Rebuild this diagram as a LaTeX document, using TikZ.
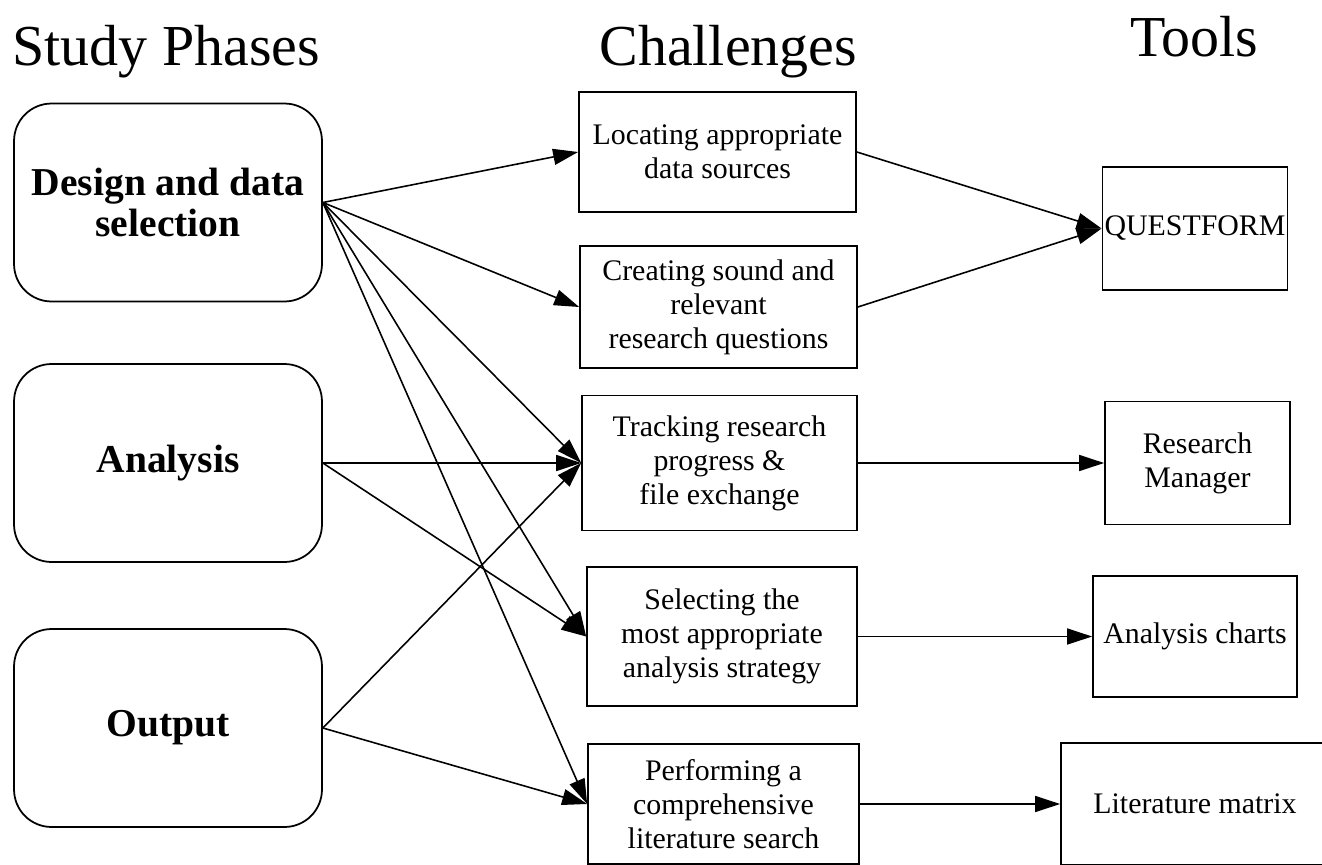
\documentclass[tikz,border=0pt]{standalone}
\usepackage{fontspec}
\setmainfont{Liberation Serif}
\usetikzlibrary{arrows.meta}

\tikzset{
  phase/.style={draw, line width=1pt, rounded corners=0.75cm, align=center,
    minimum width=6.16cm, minimum height=3.96cm,
    font=\fontsize{22.5}{23}\selectfont\bfseries},
  challenge/.style={draw, line width=1pt, align=center, inner sep=0pt,
    font=\fontsize{17}{19.3}\selectfont},
  tool/.style={draw, line width=1pt, align=center, inner sep=0pt,
    font=\fontsize{17}{19.3}\selectfont},
  heading/.style={anchor=base west, inner sep=0pt, font=\fontsize{33}{36}\selectfont},
  arr/.style={line width=0.9pt, -{Triangle[length=0.5cm,width=0.32cm]}}
}

\begin{document}
\begin{tikzpicture}[x=0.02cm, y=-0.02cm]
\useasboundingbox (0,0) rectangle (1322,865);

%--- HEADINGS ---
\node[heading] (hphase) at (12,66) {Study Phases};
\node[heading] (hchal) at (599,66) {Challenges};
\node[heading] (htool) at (1130,57) {Tools};

%--- STUDY PHASES ---
\node[phase] (design) at (168,202.5) {Design and data\\selection};
\node[phase] (analysis) at (168,463) {Analysis};
\node[phase] (output) at (168,728) {Output};

%--- CHALLENGES ---
\node[challenge, minimum width=5.54cm, minimum height=2.4cm] (locating)
      at (717.5,152) {Locating appropriate\\data sources};
\node[challenge, minimum width=5.54cm, minimum height=2.44cm] (creating)
      at (718.5,307) {Creating sound and\\relevant\\research questions};
\node[challenge, minimum width=5.5cm, minimum height=2.7cm] (tracking)
      at (719.5,463) {Tracking research\\progress \&\\file exchange};
\node[challenge, minimum width=5.4cm, minimum height=2.78cm] (selecting)
      at (722,636.5) {Selecting the\\most appropriate\\analysis strategy};
\node[challenge, minimum width=5.42cm, minimum height=2.4cm] (performing)
      at (723.5,804) {Performing a\\comprehensive\\literature search};

%--- TOOLS ---
\node[tool, minimum width=3.7cm, minimum height=2.46cm] (questform)
      at (1195,228.5) {QUESTFORM};
\node[tool, minimum width=3.7cm, minimum height=2.46cm] (manager)
      at (1197.5,463) {Research\\Manager};
\node[tool, minimum width=4.08cm, minimum height=2.42cm] (charts)
      at (1195,636.5) {Analysis charts};
\node[tool, minimum width=5.36cm, minimum height=2.44cm] (matrix)
      at (1195,804) {Literature matrix};

%--- PHASES -> CHALLENGES ---
\draw[arr] (design.east) -- (locating.west);
\draw[arr] (design.east) -- (creating.west);
\draw[arr] (design.east) -- (tracking.west);
\draw[arr] (design.east) -- (selecting.west);
\draw[arr] (design.east) -- (performing.west);
\draw[arr] (analysis.east) -- (tracking.west);
\draw[arr] (analysis.east) -- (selecting.west);
\draw[arr] (output.east) -- (tracking.west);
\draw[arr] (output.east) -- (performing.west);

%--- CHALLENGES -> TOOLS ---
\draw[arr] (locating.east) -- (questform.west);
\draw[arr] (creating.east) -- (questform.west);
\draw[arr] (tracking.east) -- (manager.west);
\draw[arr] (selecting.east) -- (charts.west);
\draw[arr] (performing.east) -- (matrix.west);
\end{tikzpicture}
\end{document}
